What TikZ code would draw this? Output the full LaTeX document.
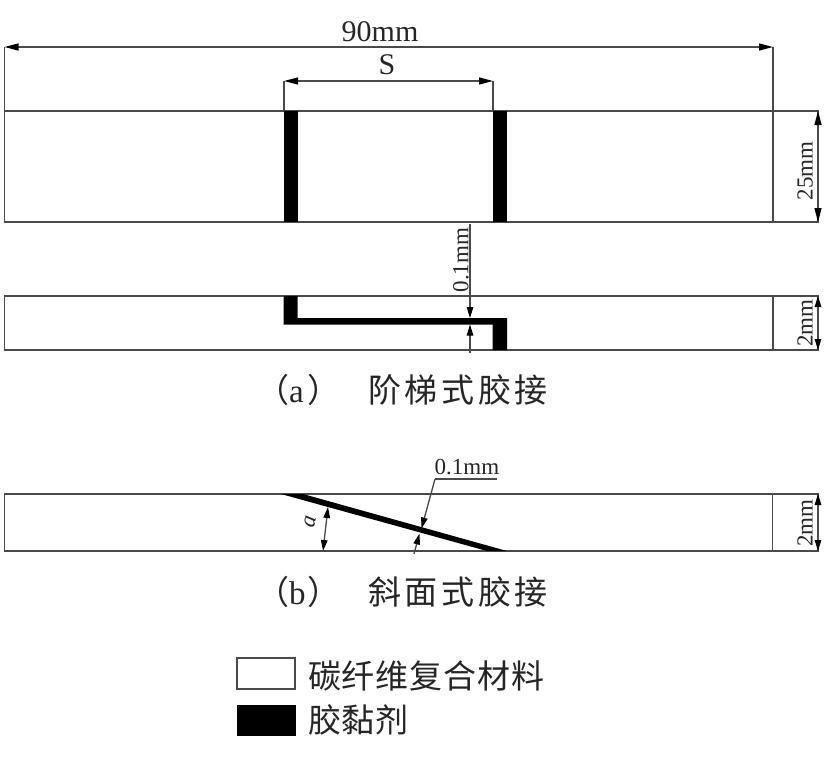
\documentclass[tikz,border=0pt]{standalone}
\usepackage{fontspec}
\setmainfont{Liberation Serif}
\newfontfamily\cjkcap[LetterSpace=11]{Noto Sans CJK SC}
\newfontfamily\cjkleg[LetterSpace=2.5]{Noto Sans CJK SC}
\usetikzlibrary{arrows.meta}
\definecolor{ln}{HTML}{4A4A4A}
\tikzset{
  part/.style={draw=ln,line width=1.3pt,fill=white},
  plainline/.style={draw=ln,line width=1.3pt},
  glue/.style={fill=black,draw=none},
  bighead/.tip={Stealth[length=14pt,width=7pt,inset=0pt,black]},
  smallhead/.tip={Stealth[length=11pt,width=6.5pt,inset=0pt,black]},
  dimline/.style={plainline,{bighead}-{bighead}},
  shortdim/.style={plainline,{smallhead}-{smallhead}},
  tipin/.style={plainline,-{smallhead}},
  lab/.style={inner sep=0pt,font=\fontsize{23}{23}\selectfont,text=black!85},
  biglab/.style={inner sep=0pt,font=\fontsize{30}{30}\selectfont,text=black!85},
  captext/.style={inner sep=0pt,anchor=west,font=\fontsize{33}{33}\selectfont\cjkcap,text=black!85},
  legtext/.style={inner sep=0pt,anchor=west,font=\fontsize{33}{33}\selectfont\cjkleg,text=black!85}
}
\begin{document}
\begin{tikzpicture}[x=1pt,y=-1pt]
\useasboundingbox (0,0) rectangle (824,760);
% plan view
\draw[part] (4.5,111) rectangle (818,222);
\fill[glue] (284,111) rectangle (298,222);
\fill[glue] (493,111) rectangle (507,222);
% section (a)
\draw[part] (4.5,296) rectangle (818,350);
\fill[glue] (283.5,296) -- (297.5,296) -- (297.5,318) -- (507,318) -- (507,350) -- (492.5,350) -- (492.5,324.5) -- (283.5,324.5) -- cycle;
% section (b)
\draw[part] (4.5,494) rectangle (818,551);
\fill[glue] (281,494) -- (303,494) -- (507,551) -- (487,551) -- cycle;
% coordinates for dimensions
\coordinate (aL) at (4.5,47);
\coordinate (aLb) at (4.5,111);
\coordinate (aR) at (773,47);
\coordinate (aRb) at (773,222);
\coordinate (sL) at (284,81);
\coordinate (sLb) at (284,111);
\coordinate (sR) at (493,81);
\coordinate (sRb) at (493,111);
\draw[plainline] (aL) -- (aLb);
\draw[plainline] (aR) -- (aRb);
\draw[plainline] (sL) -- (sLb);
\draw[plainline] (sR) -- (sRb);
\draw[dimline] (aL) -- (aR);
\draw[dimline] (sL) -- (sR);
\node[biglab] (t90) at (380,32) {90mm};
\node[biglab] (tS) at (387,65) {S};
% 25mm
\coordinate (w1) at (818,111);
\coordinate (w2) at (818,222);
\draw[dimline] (w1) -- (w2);
\node[lab,rotate=90] (t25) at (805,171) {25mm};
% 0.1mm upper
\coordinate (g0) at (470,224);
\coordinate (g1) at (470,318);
\coordinate (g2) at (470,324.5);
\coordinate (g3) at (470,353);
\draw[tipin] (g0) -- (g1);
\draw[tipin] (g3) -- (g2);
\node[lab,rotate=90] (t01a) at (461,260) {0.1mm};
% vertical lines in sections
\coordinate (v1) at (773,296);
\coordinate (v2) at (773,350);
\coordinate (v3) at (772.7,494);
\coordinate (v4) at (772.7,551);
\draw[plainline] (v1) -- (v2);
\draw[plainline] (v3) -- (v4);
% 2mm
\coordinate (h1) at (818,296);
\coordinate (h2) at (818,350);
\draw[shortdim] (h1) -- (h2);
\node[lab,rotate=90] (t2a) at (805,323) {2mm};
\coordinate (h3) at (818,494);
\coordinate (h4) at (818,551);
\draw[shortdim] (h3) -- (h4);
\node[lab,rotate=90] (t2b) at (805,523) {2mm};
% angle
\coordinate (an1) at (328,507);
\coordinate (an2) at (323,551);
\draw[shortdim] (an1) -- (an2);
\node[lab,rotate=78] (ta) at (310,522) {\itshape a};
% 0.1mm lower
\coordinate (ld0) at (497,479);
\coordinate (ld1) at (435,479);
\coordinate (ld2) at (421.5,528.5);
\coordinate (ld3) at (419.5,533.5);
\coordinate (ld4) at (414,554);
\draw[plainline] (ld0) -- (ld1);
\draw[tipin] (ld1) -- (ld2);
\draw[tipin] (ld4) -- (ld3);
\node[lab] (t01b) at (467,467) {0.1mm};
% captions
\node[captext] (capa) at (256,390) {（\makebox[18pt][l]{\textrm{a}}）\hspace{28pt}阶梯式胶接};
\node[captext] (capb) at (256,592) {（\makebox[18pt][l]{\textrm{b}}）\hspace{28pt}斜面式胶接};
% legend
\node[part,minimum width=58pt,minimum height=31pt,inner sep=0pt,line width=1.5pt] (lg1) at (266,673.5) {};
\node[glue,minimum width=59pt,minimum height=31pt,inner sep=0pt] (lg2) at (266,720.5) {};
\node[legtext] (tl1) at (308,676) {碳纤维复合材料};
\node[legtext] (tl2) at (308,720) {胶黏剂};
\end{tikzpicture}
\end{document}
